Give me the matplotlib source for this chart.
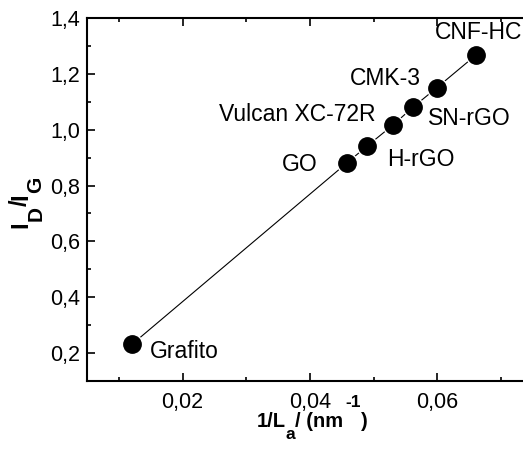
import matplotlib
matplotlib.use("Agg")
import matplotlib.pyplot as plt
from matplotlib.ticker import MultipleLocator, FuncFormatter

plt.rcParams['font.family'] = ['Liberation Sans', 'DejaVu Sans']

# 1/La vs ID/IG for each carbon material
samples = ['Grafito', 'GO', 'H-rGO', 'Vulcan XC-72R', 'SN-rGO', 'CMK-3', 'CNF-HC']
inv_la = [0.0121, 0.0458, 0.0489, 0.0531, 0.0562, 0.0599, 0.0661]
id_ig = [0.232, 0.881, 0.940, 1.018, 1.081, 1.150, 1.268]

# label offsets in points (dx, dy) and horizontal alignment
label_pos = {
    'Grafito': (13, -5, 'left'),
    'GO': (-21, -1.5, 'right'),
    'H-rGO': (14.5, -9.5, 'left'),
    'Vulcan XC-72R': (-13, 7, 'right'),
    'SN-rGO': (11, -8, 'left'),
    'CMK-3': (-11.5, 7, 'right'),
    'CNF-HC': (1.5, 16, 'center'),
}

fig = plt.figure(figsize=(5.23, 4.49), dpi=100)
ax = fig.add_axes([0.1663, 0.1514, 0.8527, 0.8086])

ax.plot(inv_la, id_ig, color='black', lw=0.8, marker='o', ms=13,
        mfc='black', mec='white', mew=2.5, zorder=3)
ax.plot(inv_la, id_ig, ls='none', marker='o', ms=12.5, color='black', zorder=4)

for name, x, y in zip(samples, inv_la, id_ig):
    dx, dy, ha = label_pos[name]
    ax.annotate(name, (x, y), xytext=(dx, dy), textcoords='offset points',
                ha=ha, va='center', fontsize=16.5)

ax.set_xlim(0.005, 0.075)
ax.set_ylim(0.1, 1.4)
ax.xaxis.set_major_locator(MultipleLocator(0.02))
ax.xaxis.set_minor_locator(MultipleLocator(0.01))
ax.yaxis.set_major_locator(MultipleLocator(0.2))
ax.yaxis.set_minor_locator(MultipleLocator(0.1))

comma = lambda fmt: FuncFormatter(lambda v, p: (fmt % v).replace('.', ','))
ax.xaxis.set_major_formatter(comma('%.2f'))
ax.yaxis.set_major_formatter(comma('%.1f'))

ax.tick_params(which='both', direction='in', labelsize=15.5, top=True, width=1.2)
ax.tick_params(which='major', length=6)
ax.tick_params(which='minor', length=3)
ax.tick_params(axis='x', which='major', pad=8)
ax.tick_params(axis='y', which='major', pad=5)
for s in ax.spines.values():
    s.set_linewidth(1.5)

FW = dict(fontweight='bold', annotation_clip=False)


def chain(s, ref_x, ref_y, xy, dx, dy, size, **kw):
    # place a text piece relative to the bounding boxes of earlier pieces
    return fig.add_artist(matplotlib.text.Annotation(
        s, xy=xy, xycoords=(ref_x, ref_y), xytext=(dx, dy),
        textcoords='offset points', fontsize=size, **FW, **kw))


# x label: 1/L_a / (nm^-1)
x0 = fig.text(257 / 523, 22 / 449, '1/L', ha='left', va='baseline',
              fontsize=14.5, fontweight='bold')
xa = chain('a', x0, x0, (1, 0), -0.5, -8, 12.5, ha='left', va='bottom')
xb = chain('/ (nm', xa, x0, (1, 0), 0, 0, 14.5, ha='left', va='bottom')
xc = chain('-1', xb, x0, (1, 0), 1.5, 15, 12.5, ha='left', va='bottom')
xd = chain(')', xc, x0, (1, 0), 0.5, 0, 14.5, ha='left', va='bottom')

# y label: I_D/I_G, read bottom to top
y0 = fig.text(32 / 523, 221 / 449, 'I', rotation=90, ha='right', va='bottom',
              fontsize=17, fontweight='bold')
yd = chain('D', y0, y0, (1, 1), 9.5, 0, 15, rotation=90, ha='right', va='bottom')
ys = chain('/', y0, yd, (1, 1), 0, 0, 17, rotation=90, ha='right', va='bottom')
yi = chain('I', y0, ys, (1, 1), 0, 0, 17, rotation=90, ha='right', va='bottom')
yg = chain('G', y0, yi, (1, 1), 9.5, 0, 15, rotation=90, ha='right', va='bottom')

fig.savefig('out.png', dpi=100)
